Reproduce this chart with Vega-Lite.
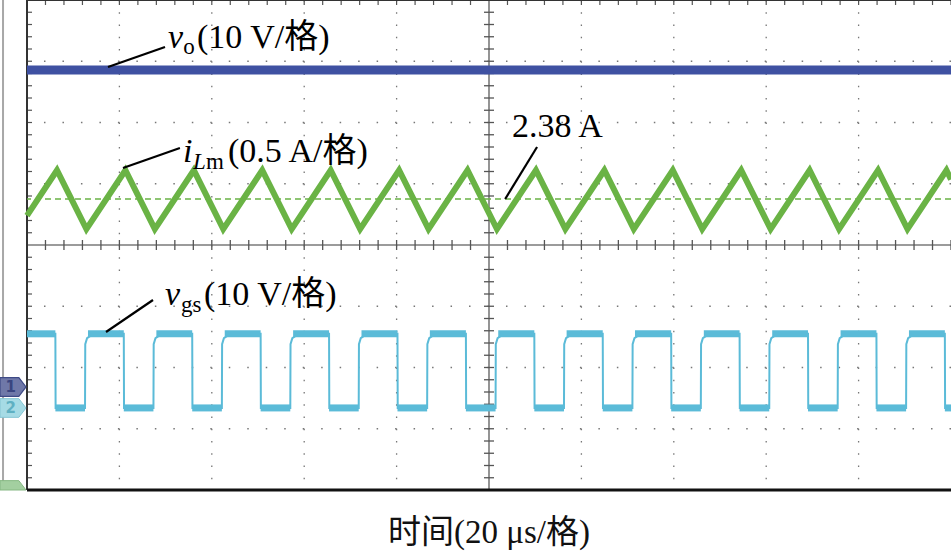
{
  "$schema": "https://vega.github.io/schema/vega-lite/v6.json",
  "width": 924,
  "height": 490,
  "autosize": {"type": "none"},
  "padding": {"left": 27, "top": 0, "right": 0, "bottom": 65},
  "background": "white",
  "config": {"view": {"stroke": null}},
  "title": {"text": "时间(20 μs/格)", "orient": "bottom", "anchor": "middle", "frame": "group", "font": "Liberation Serif, Noto Sans CJK SC", "fontSize": 33, "fontWeight": "normal", "color": "#111111", "offset": 25},
  "datasets": {
    "one": [{"k": 1}],
    "gridx": [{"t": 20}, {"t": 40}, {"t": 60}, {"t": 80}, {"t": 120}, {"t": 140}, {"t": 160}, {"t": 180}],
    "gridy": [{"v": -3}, {"v": -2}, {"v": -1}, {"v": 1}, {"v": 2}, {"v": 3}],
    "xminor": [{"t":0},{"t":4},{"t":8},{"t":12},{"t":16},{"t":20},{"t":24},{"t":28},{"t":32},{"t":36},{"t":40},{"t":44},{"t":48},{"t":52},{"t":56},{"t":60},{"t":64},{"t":68},{"t":72},{"t":76},{"t":80},{"t":84},{"t":88},{"t":92},{"t":96},{"t":104},{"t":108},{"t":112},{"t":116},{"t":120},{"t":124},{"t":128},{"t":132},{"t":136},{"t":140},{"t":144},{"t":148},{"t":152},{"t":156},{"t":160},{"t":164},{"t":168},{"t":172},{"t":176},{"t":180},{"t":184},{"t":188},{"t":192},{"t":196},{"t":200}],
    "yminor": [{"v":-4},{"v":-3.8},{"v":-3.6},{"v":-3.4},{"v":-3.2},{"v":-3},{"v":-2.8},{"v":-2.6},{"v":-2.4},{"v":-2.2},{"v":-2},{"v":-1.8},{"v":-1.6},{"v":-1.4},{"v":-1.2},{"v":-1},{"v":-0.8},{"v":-0.6},{"v":-0.4},{"v":-0.2},{"v":0.2},{"v":0.4},{"v":0.6},{"v":0.8},{"v":1},{"v":1.2},{"v":1.4},{"v":1.6},{"v":1.8},{"v":2},{"v":2.2},{"v":2.4},{"v":2.6},{"v":2.8},{"v":3},{"v":3.2},{"v":3.4},{"v":3.6},{"v":3.8},{"v":4}],
    "vo": [{"t": 0, "t2": 200, "v": 2.857}],
    "ilm": [{"t":0,"v":0.48},{"t":6.49,"v":1.22},{"t":12.86,"v":0.26},{"t":21.30,"v":1.22},{"t":27.67,"v":0.26},{"t":36.11,"v":1.22},{"t":42.48,"v":0.26},{"t":50.92,"v":1.22},{"t":57.29,"v":0.26},{"t":65.73,"v":1.22},{"t":72.10,"v":0.26},{"t":80.54,"v":1.22},{"t":86.91,"v":0.26},{"t":95.35,"v":1.22},{"t":101.72,"v":0.26},{"t":110.16,"v":1.22},{"t":116.53,"v":0.26},{"t":124.97,"v":1.22},{"t":131.34,"v":0.26},{"t":139.78,"v":1.22},{"t":146.15,"v":0.26},{"t":154.59,"v":1.22},{"t":160.96,"v":0.26},{"t":169.40,"v":1.22},{"t":175.77,"v":0.26},{"t":184.21,"v":1.22},{"t":190.58,"v":0.26},{"t":199.02,"v":1.22},{"t":200,"v":1.07}],
    "vgs": [{"t":0,"v":-1.45},{"t":6.14,"v":-1.45},{"t":6.19,"v":-2.66},{"t":12.56,"v":-2.66},{"t":12.61,"v":-1.62},{"t":13.0,"v":-1.52},{"t":14.2,"v":-1.46},{"t":20.95,"v":-1.45},{"t":21.0,"v":-2.66},{"t":27.37,"v":-2.66},{"t":27.42,"v":-1.62},{"t":27.81,"v":-1.52},{"t":29.01,"v":-1.46},{"t":35.76,"v":-1.45},{"t":35.81,"v":-2.66},{"t":42.18,"v":-2.66},{"t":42.23,"v":-1.62},{"t":42.62,"v":-1.52},{"t":43.82,"v":-1.46},{"t":50.57,"v":-1.45},{"t":50.62,"v":-2.66},{"t":56.99,"v":-2.66},{"t":57.04,"v":-1.62},{"t":57.43,"v":-1.52},{"t":58.63,"v":-1.46},{"t":65.38,"v":-1.45},{"t":65.43,"v":-2.66},{"t":71.80,"v":-2.66},{"t":71.85,"v":-1.62},{"t":72.24,"v":-1.52},{"t":73.44,"v":-1.46},{"t":80.19,"v":-1.45},{"t":80.24,"v":-2.66},{"t":86.61,"v":-2.66},{"t":86.66,"v":-1.62},{"t":87.05,"v":-1.52},{"t":88.25,"v":-1.46},{"t":95.00,"v":-1.45},{"t":95.05,"v":-2.66},{"t":101.42,"v":-2.66},{"t":101.47,"v":-1.62},{"t":101.86,"v":-1.52},{"t":103.06,"v":-1.46},{"t":109.81,"v":-1.45},{"t":109.86,"v":-2.66},{"t":116.23,"v":-2.66},{"t":116.28,"v":-1.62},{"t":116.67,"v":-1.52},{"t":117.87,"v":-1.46},{"t":124.62,"v":-1.45},{"t":124.67,"v":-2.66},{"t":131.04,"v":-2.66},{"t":131.09,"v":-1.62},{"t":131.48,"v":-1.52},{"t":132.68,"v":-1.46},{"t":139.43,"v":-1.45},{"t":139.48,"v":-2.66},{"t":145.85,"v":-2.66},{"t":145.90,"v":-1.62},{"t":146.29,"v":-1.52},{"t":147.49,"v":-1.46},{"t":154.24,"v":-1.45},{"t":154.29,"v":-2.66},{"t":160.66,"v":-2.66},{"t":160.71,"v":-1.62},{"t":161.10,"v":-1.52},{"t":162.30,"v":-1.46},{"t":169.05,"v":-1.45},{"t":169.10,"v":-2.66},{"t":175.47,"v":-2.66},{"t":175.52,"v":-1.62},{"t":175.91,"v":-1.52},{"t":177.11,"v":-1.46},{"t":183.86,"v":-1.45},{"t":183.91,"v":-2.66},{"t":190.28,"v":-2.66},{"t":190.33,"v":-1.62},{"t":190.72,"v":-1.52},{"t":191.92,"v":-1.46},{"t":198.67,"v":-1.45},{"t":198.72,"v":-2.66},{"t":200,"v":-2.66}],
    "vgslevels": [{"t":0,"t2":6.14,"v":-1.45},{"t":13.2,"t2":20.95,"v":-1.45},{"t":28.0,"t2":35.76,"v":-1.45},{"t":42.8,"t2":50.57,"v":-1.45},{"t":57.6,"t2":65.38,"v":-1.45},{"t":72.4,"t2":80.19,"v":-1.45},{"t":87.2,"t2":95.00,"v":-1.45},{"t":102.0,"t2":109.81,"v":-1.45},{"t":116.8,"t2":124.62,"v":-1.45},{"t":131.6,"t2":139.43,"v":-1.45},{"t":146.5,"t2":154.24,"v":-1.45},{"t":161.3,"t2":169.05,"v":-1.45},{"t":176.1,"t2":183.86,"v":-1.45},{"t":190.9,"t2":198.67,"v":-1.45},{"t":6.14,"t2":12.56,"v":-2.66},{"t":20.95,"t2":27.37,"v":-2.66},{"t":35.76,"t2":42.18,"v":-2.66},{"t":50.57,"t2":56.99,"v":-2.66},{"t":65.38,"t2":71.80,"v":-2.66},{"t":80.19,"t2":86.61,"v":-2.66},{"t":95.00,"t2":101.42,"v":-2.66},{"t":109.81,"t2":116.23,"v":-2.66},{"t":124.62,"t2":131.04,"v":-2.66},{"t":139.43,"t2":145.85,"v":-2.66},{"t":154.24,"t2":160.66,"v":-2.66},{"t":169.05,"t2":175.47,"v":-2.66},{"t":183.86,"t2":190.28,"v":-2.66},{"t":198.67,"t2":200,"v":-2.66}],
    "leaders": [{"t":17.53,"v":2.906,"t2":29.87,"v2":3.233},{"t":20.78,"v":1.257,"t2":33.1,"v2":1.584},{"t":110.4,"v":1.6,"t2":103.5,"v2":0.751},{"t":17.1,"v":-1.42,"t2":27.27,"v2":-0.898}],
    "romanMain": [{"t":36.8,"v":3.216,"text":"(10 V/格)"},{"t":43.5,"v":1.355,"text":"(0.5 A/格)"},{"t":104.98,"v":1.763,"text":"2.38 A"},{"t":38.3,"v":-0.98,"text":"(10 V/格)"}],
    "italicMain": [{"t":30.52,"v":3.216,"text":"v"},{"t":33.77,"v":1.355,"text":"i"},{"t":29.87,"v":-0.98,"text":"v"}],
    "romanSub": [{"t":33.8,"v":3.118,"text":"o"},{"t":38.74,"v":1.241,"text":"m"},{"t":33.33,"v":-1.094,"text":"gs"}],
    "italicSub": [{"t":35.93,"v":1.241,"text":"L"}]
  },
  "layer": [
    {
      "data": {"name": "gridx"},
      "mark": {"type": "rule", "color": "#777777", "strokeWidth": 1.3, "strokeDash": [1.5, 10.75]},
      "encoding": {"x": {"field": "t", "type": "quantitative", "scale": {"domain": [0, 200], "nice": false, "zero": false}, "axis": null}}
    },
    {
      "data": {"name": "gridy"},
      "mark": {"type": "rule", "color": "#777777", "strokeWidth": 1.3, "strokeDash": [1.5, 16.98]},
      "encoding": {"y": {"field": "v", "type": "quantitative", "scale": {"domain": [-4, 4], "nice": false, "zero": false}, "axis": null}}
    },
    {"data": {"name": "one"}, "mark": {"type": "rule", "color": "#7a7a7a", "strokeWidth": 1.6}, "encoding": {"x": {"datum": 100, "type": "quantitative", "axis": null}}},
    {"data": {"name": "one"}, "mark": {"type": "rule", "color": "#7a7a7a", "strokeWidth": 1.6}, "encoding": {"y": {"datum": 0, "type": "quantitative", "axis": null}}},
    {
      "data": {"name": "xminor"},
      "mark": {"type": "tick", "orient": "vertical", "size": 10, "thickness": 1.3, "color": "#555555", "opacity": 1},
      "encoding": {"x": {"field": "t", "type": "quantitative", "axis": null}, "y": {"datum": 0, "type": "quantitative", "axis": null}}
    },
    {
      "data": {"name": "yminor"},
      "mark": {"type": "tick", "orient": "horizontal", "size": 10, "thickness": 1.3, "color": "#555555", "opacity": 1},
      "encoding": {"y": {"field": "v", "type": "quantitative", "axis": null}, "x": {"datum": 100, "type": "quantitative", "axis": null}}
    },
    {
      "data": {"name": "xminor"},
      "mark": {"type": "tick", "orient": "vertical", "size": 5, "thickness": 1.2, "color": "#555555", "opacity": 1, "yOffset": 2.5},
      "encoding": {"x": {"field": "t", "type": "quantitative", "axis": null}, "y": {"datum": 4, "type": "quantitative", "axis": null}}
    },
    {
      "data": {"name": "yminor"},
      "mark": {"type": "tick", "orient": "horizontal", "size": 5, "thickness": 1.2, "color": "#555555", "opacity": 1, "xOffset": 2.5},
      "encoding": {"y": {"field": "v", "type": "quantitative", "axis": null}, "x": {"datum": 0, "type": "quantitative", "axis": null}}
    },
    {"data": {"name": "one"}, "mark": {"type": "rule", "color": "#333333", "strokeWidth": 2}, "encoding": {"x": {"datum": 0, "type": "quantitative", "axis": null}}},
    {"data": {"name": "one"}, "mark": {"type": "rule", "color": "#333333", "strokeWidth": 2}, "encoding": {"y": {"datum": 4, "type": "quantitative", "axis": null}}},
    {"data": {"name": "one"}, "mark": {"type": "rule", "color": "#111111", "strokeWidth": 3}, "encoding": {"y": {"datum": -4, "type": "quantitative", "axis": null}}},
    {"data": {"name": "one"}, "mark": {"type": "rule", "color": "#a8a8a8", "strokeWidth": 2, "clip": false}, "encoding": {"x": {"datum": -5.19, "type": "quantitative", "axis": null}}},
    {"data": {"name": "one"}, "mark": {"type": "rule", "color": "#6ab345", "strokeWidth": 1.3, "strokeDash": [6, 4]}, "encoding": {"y": {"datum": 0.751, "type": "quantitative", "axis": null}}},
    {
      "data": {"name": "vo"},
      "mark": {"type": "rule", "color": "#3f51a2", "strokeWidth": 9, "strokeCap": "butt"},
      "encoding": {"x": {"field": "t", "type": "quantitative", "axis": null}, "x2": {"field": "t2"}, "y": {"field": "v", "type": "quantitative", "axis": null}}
    },
    {
      "data": {"name": "ilm"},
      "mark": {"type": "line", "color": "#6ab345", "strokeWidth": 6, "strokeJoin": "miter"},
      "encoding": {"x": {"field": "t", "type": "quantitative", "axis": null}, "y": {"field": "v", "type": "quantitative", "axis": null}}
    },
    {
      "data": {"name": "vgs"},
      "mark": {"type": "line", "color": "#5bbbd8", "strokeWidth": 2},
      "encoding": {"x": {"field": "t", "type": "quantitative", "axis": null}, "y": {"field": "v", "type": "quantitative", "axis": null}}
    },
    {
      "data": {"name": "vgslevels"},
      "mark": {"type": "rule", "color": "#5bbbd8", "strokeWidth": 7, "strokeCap": "butt"},
      "encoding": {"x": {"field": "t", "type": "quantitative", "axis": null}, "x2": {"field": "t2"}, "y": {"field": "v", "type": "quantitative", "axis": null}}
    },
    {
      "data": {"name": "leaders"},
      "mark": {"type": "rule", "color": "#000000", "strokeWidth": 2.2},
      "encoding": {"x": {"field": "t", "type": "quantitative", "axis": null}, "y": {"field": "v", "type": "quantitative", "axis": null}, "x2": {"field": "t2"}, "y2": {"field": "v2"}}
    },
    {
      "data": {"name": "romanMain"},
      "mark": {"type": "text", "align": "left", "baseline": "alphabetic", "font": "Liberation Serif, Noto Sans CJK SC", "fontSize": 34, "color": "#000000"},
      "encoding": {"x": {"field": "t", "type": "quantitative", "axis": null}, "y": {"field": "v", "type": "quantitative", "axis": null}, "text": {"field": "text"}}
    },
    {
      "data": {"name": "italicMain"},
      "mark": {"type": "text", "align": "left", "baseline": "alphabetic", "font": "Liberation Serif", "fontStyle": "italic", "fontSize": 34, "color": "#000000"},
      "encoding": {"x": {"field": "t", "type": "quantitative", "axis": null}, "y": {"field": "v", "type": "quantitative", "axis": null}, "text": {"field": "text"}}
    },
    {
      "data": {"name": "romanSub"},
      "mark": {"type": "text", "align": "left", "baseline": "alphabetic", "font": "Liberation Serif", "fontSize": 23, "color": "#000000"},
      "encoding": {"x": {"field": "t", "type": "quantitative", "axis": null}, "y": {"field": "v", "type": "quantitative", "axis": null}, "text": {"field": "text"}}
    },
    {
      "data": {"name": "italicSub"},
      "mark": {"type": "text", "align": "left", "baseline": "alphabetic", "font": "Liberation Serif", "fontStyle": "italic", "fontSize": 23, "color": "#000000"},
      "encoding": {"x": {"field": "t", "type": "quantitative", "axis": null}, "y": {"field": "v", "type": "quantitative", "axis": null}, "text": {"field": "text"}}
    },
    {
      "data": {"values": [{"t": -3.03, "v": -2.318}]},
      "mark": {"type": "point", "shape": "M-1,-0.72L0.45,-0.72L1,0L0.45,0.72L-1,0.72Z", "size": 676, "filled": true, "fill": "#6f78a8", "stroke": "#3e4a86", "strokeWidth": 1.2, "opacity": 1, "clip": false},
      "encoding": {"x": {"field": "t", "type": "quantitative", "axis": null}, "y": {"field": "v", "type": "quantitative", "axis": null}}
    },
    {
      "data": {"values": [{"t": -3.03, "v": -2.661}]},
      "mark": {"type": "point", "shape": "M-1,-0.72L0.45,-0.72L1,0L0.45,0.72L-1,0.72Z", "size": 676, "filled": true, "fill": "#a6dbe5", "stroke": "#86c6d4", "strokeWidth": 1, "opacity": 1, "clip": false},
      "encoding": {"x": {"field": "t", "type": "quantitative", "axis": null}, "y": {"field": "v", "type": "quantitative", "axis": null}}
    },
    {
      "data": {"values": [{"t": -3.03, "v": -4}]},
      "mark": {"type": "point", "shape": "M-1,-0.72L0.45,-0.72L1,0L-1,0Z", "size": 676, "filled": true, "fill": "#a3cfa0", "stroke": "#86b883", "strokeWidth": 1, "opacity": 1, "clip": false},
      "encoding": {"x": {"field": "t", "type": "quantitative", "axis": null}, "y": {"field": "v", "type": "quantitative", "axis": null}}
    },
    {
      "data": {"values": [{"t": -3.5, "v": -2.318, "text": "1"}]},
      "mark": {"type": "text", "align": "center", "baseline": "middle", "font": "DejaVu Sans", "fontWeight": "bold", "fontSize": 15, "color": "#3a4580", "clip": false},
      "encoding": {"x": {"field": "t", "type": "quantitative", "axis": null}, "y": {"field": "v", "type": "quantitative", "axis": null}, "text": {"field": "text"}}
    },
    {
      "data": {"values": [{"t": -3.5, "v": -2.661, "text": "2"}]},
      "mark": {"type": "text", "align": "center", "baseline": "middle", "font": "DejaVu Sans", "fontWeight": "bold", "fontSize": 15, "color": "#5fb0c2", "clip": false},
      "encoding": {"x": {"field": "t", "type": "quantitative", "axis": null}, "y": {"field": "v", "type": "quantitative", "axis": null}, "text": {"field": "text"}}
    }
  ]
}
